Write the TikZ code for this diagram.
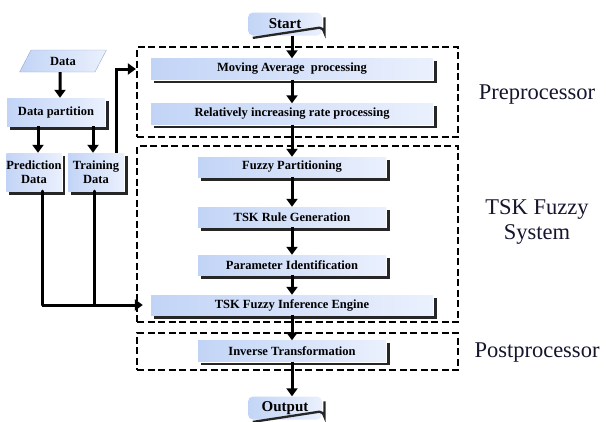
\documentclass[tikz,border=0pt]{standalone}
\usepackage{fontspec}
\setmainfont{Liberation Serif}
\usetikzlibrary{shapes.geometric,arrows.meta,calc}
\definecolor{boxL}{HTML}{C2D4F6}
\definecolor{boxR}{HTML}{EAF0FD}
\definecolor{lblc}{HTML}{15152E}
\newcommand\shd[1]{\draw[shdline] ([shift={(2.2,3)}]#1.north east) -- ([shift={(2.2,2.2)}]#1.south east) -- ([shift={(3,2.2)}]#1.south west);}
\begin{document}
\begin{tikzpicture}[x=1pt,y=-1pt,
  box/.style={draw=none, left color=boxL, right color=boxR, inner sep=0pt,
    font=\fontsize{12.5}{14}\selectfont\bfseries, text=black},
  shdline/.style={line width=2.3pt, draw=black!85},
  arr/.style={-{Triangle[length=8pt,width=11pt]}, line width=3pt},
  plain/.style={line width=3pt},
  dashbox/.style={draw, line width=2.2pt, dash pattern=on 7pt off 3.5pt, inner sep=0pt, fill=none},
  lbl/.style={font=\fontsize{22.5}{25}\selectfont, text=lblc, align=center}]
\useasboundingbox (0,0) rectangle (606,421);
% dashed groups
\node[dashbox, minimum width=321, minimum height=90] (pre) at (297.5,92) {};
\node[dashbox, minimum width=321, minimum height=176] (tsk) at (297.5,234) {};
\node[dashbox, minimum width=321, minimum height=37] (post) at (297.5,351.5) {};
% main column
\node[box, rounded corners=5pt, minimum width=74, minimum height=23, font=\fontsize{15}{17}\selectfont\bfseries] (start) at (285,24) {Start};
\node[box, minimum width=282, minimum height=21] (ma) at (292,69) {Moving Average\ \ processing};
\node[box, minimum width=282, minimum height=21] (rir) at (292,114) {Relatively increasing rate processing};
\node[box, minimum width=188, minimum height=20] (fp) at (292,167) {Fuzzy Partitioning};
\node[box, minimum width=188, minimum height=20] (rule) at (292,217) {TSK Rule Generation};
\node[box, minimum width=188, minimum height=20] (param) at (292,265) {Parameter Identification};
\node[box, minimum width=282, minimum height=20] (eng) at (292,305) {TSK Fuzzy Inference Engine};
\node[box, minimum width=188, minimum height=21] (inv) at (292,351) {Inverse Transformation};
\node[box, rounded corners=5pt, minimum width=74, minimum height=23, font=\fontsize{15}{17}\selectfont\bfseries] (out) at (285,408) {Output};
% left column
\node[box, trapezium, trapezium left angle=61, trapezium right angle=119, trapezium stretches=true,
  minimum width=87, minimum height=22, draw=boxL!80!black, line width=0.4pt] (data) at (63,61) {Data};
\node[box, minimum width=98, minimum height=28] (part) at (56,112) {Data partition};
\node[box, minimum width=54, minimum height=38, align=center] (pred) at (34,172) {Prediction\\Data};
\node[box, minimum width=56, minimum height=38, align=center] (train) at (96,172) {Training\\Data};
% shadows
\shd{ma}\shd{rir}\shd{fp}\shd{rule}\shd{param}\shd{eng}\shd{inv}
\shd{part}\shd{pred}\shd{train}
\draw[shdline] ([shift={(2.2,5)}]start.north east) -- ([shift={(2.2,-3)}]start.south east) arc[start angle=0,end angle=90,radius=5pt] -- ([shift={(5,2.2)}]start.south west);
\draw[shdline] ([shift={(2.2,5)}]out.north east) -- ([shift={(2.2,-3)}]out.south east) arc[start angle=0,end angle=90,radius=5pt] -- ([shift={(5,2.2)}]out.south west);
% arrows main column
\draw[arr] (start.south -| ma.north) -- (ma.north);
\draw[arr] (ma.south) -- (rir.north);
\draw[arr] (rir.south) -- (fp.north);
\draw[arr] (fp.south) -- (rule.north);
\draw[arr] (rule.south) -- (param.north);
\draw[arr] (param.south) -- (eng.north);
\draw[arr] (eng.south) -- (inv.north);
\draw[arr] (inv.south) -- (out.north -| inv.south);
% left arrows
\draw[arr] ([xshift=-3pt]data.south) -- ([xshift=4pt]part.north);
\draw[arr] ([xshift=4pt]part.south -| pred.north) -- ([xshift=4pt]pred.north);
\draw[arr] ([xshift=-3pt]part.south -| train.north) -- ([xshift=-3pt]train.north);
\draw[arr] ([xshift=20pt]train.north) |- (pre.west |- ma.west);
\coordinate (pc) at ([xshift=8pt]pred.south |- eng.west);
\coordinate (tc) at ([xshift=-2pt]train.south |- eng.west);
\draw[plain, line cap=round] ([xshift=8pt]pred.south) -- (pc);
\draw[plain, line cap=round] ([xshift=-2pt]train.south) -- (tc);
\draw[arr, shorten >=8pt] (pc) -- (eng.west);
% labels
\node[lbl] (lpre) at (537,95) {Preprocessor};
\node[lbl] (ltsk) at (537,222) {TSK Fuzzy\\System};
\node[lbl] (lpost) at (537,353) {Postprocessor};
\end{tikzpicture}
\end{document}
